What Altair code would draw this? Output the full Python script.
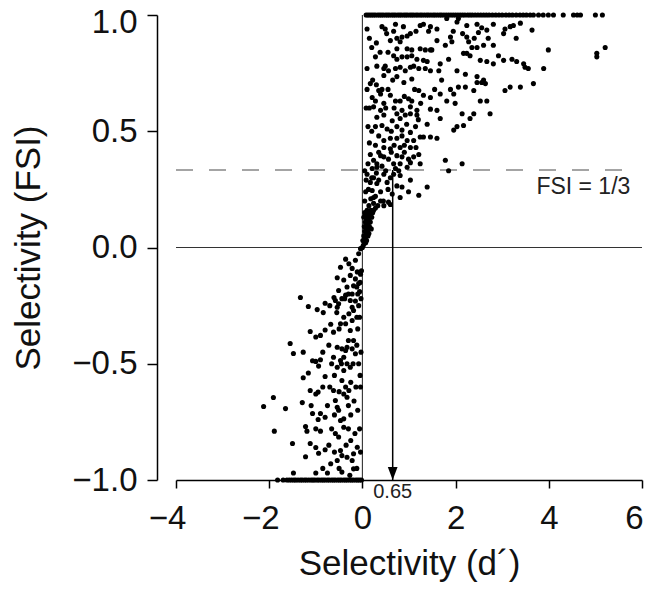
import altair as alt
import pandas as pd

FONT = "Liberation Sans"

# ---- data (d' on x, FSI on y) ----
top_row_x = [0.08, 0.12, 0.16, 0.2, 0.24, 0.28, 0.33, 0.37, 0.41, 0.45, 0.5, 0.54, 0.58, 0.63, 0.67,
             0.71, 0.76, 0.8, 0.84, 0.89, 0.93, 0.97, 1.02, 1.06, 1.1, 1.15, 1.19, 1.24, 1.28, 1.33,
             1.38, 1.42, 1.47, 1.52, 1.56, 1.61, 1.66, 1.7, 1.75, 1.8, 1.85, 1.9, 1.95, 2.0, 2.05,
             2.1, 2.15, 2.2, 2.26, 2.31, 2.36, 2.42, 2.48, 2.54, 2.6, 2.66, 2.72, 2.79, 2.86, 2.93,
             3.0, 3.08, 3.15, 3.22, 3.3, 3.38, 3.45, 3.52, 3.6, 3.67, 3.78, 3.88, 3.99, 4.1, 4.31,
             4.53, 4.61, 4.68, 5.0, 5.15]

bottom_row_x = [-1.82, -1.7, -1.62, -1.57, -1.52, -1.47, -1.43, -1.38, -1.33, -1.29, -1.24, -1.2,
                -1.15, -1.1, -1.06, -1.02, -0.97, -0.93, -0.88, -0.84, -0.8, -0.75, -0.71, -0.66,
                -0.62, -0.58, -0.53, -0.49, -0.45, -0.4, -0.36, -0.32, -0.27, -0.23, -0.19, -0.14,
                -0.1, -0.06, -0.02]

upper_pts = [(0.10, 0.94), (0.42, 0.95), (0.49, 0.94), (0.71, 0.96), (0.67, 0.93), (1.03, 0.92),
             (0.96, 0.91), (1.24, 0.955), (1.31, 0.96), (1.46, 0.95), (1.42, 0.93), (1.81, 0.985),
             (2.06, 0.985), (2.03, 0.97), (2.24, 0.955), (2.46, 0.96), (2.56, 0.945), (2.67, 0.935),
             (2.49, 0.925), (2.81, 0.96), (3.03, 0.92), (3.06, 0.94), (3.17, 0.95), (3.24, 0.955),
             (3.39, 0.965), (3.64, 0.935), (3.99, 0.85), (5.03, 0.835), (5.03, 0.82), (5.21, 0.86),
             (0.6, 0.89), (0.74, 0.9), (0.85, 0.905), (0.81, 0.885), (1.6, 0.89), (1.78, 0.87),
             (1.92, 0.885), (1.89, 0.905), (2.24, 0.905), (2.28, 0.885), (2.35, 0.86), (2.46, 0.86),
             (2.6, 0.87), (2.81, 0.87), (2.24, 0.835), (2.17, 0.835), (1.24, 0.855), (1.35, 0.85),
             (1.46, 0.85), (1.49, 0.85), (0.74, 0.855), (0.96, 0.855), (1.06, 0.85),
             (0.28, 0.82), (0.31, 0.78), (0.49, 0.78), (0.67, 0.825), (0.74, 0.81), (0.85, 0.82),
             (0.96, 0.82), (1.06, 0.825), (1.17, 0.81), (1.31, 0.805), (1.39, 0.8), (1.67, 0.79),
             (1.85, 0.81), (2.31, 0.825), (2.53, 0.805), (2.67, 0.8), (2.81, 0.79), (2.92, 0.825),
             (3.03, 0.805), (3.21, 0.81), (3.31, 0.8), (3.46, 0.79), (3.49, 0.775), (3.56, 0.77),
             (3.89, 0.77), (0.1, 0.77), (0.46, 0.77), (0.56, 0.76), (0.71, 0.77), (0.81, 0.775),
             (0.92, 0.76), (1.03, 0.775), (1.1, 0.78), (1.21, 0.77), (1.35, 0.77), (1.46, 0.76),
             (1.64, 0.76), (2.03, 0.76), (2.21, 0.745), (2.46, 0.735), (2.6, 0.72), (0.46, 0.74),
             (0.74, 0.735), (1.06, 0.725), (0.89, 0.71),
             (0.15, 0.9), (0.2, 0.86), (0.3, 0.88), (0.38, 0.84), (0.55, 0.84), (0.22, 0.72),
             (0.52, 0.92), (0.88, 0.95), (1.15, 0.93), (1.6, 0.94), (1.95, 0.93), (2.15, 0.92),
             (2.4, 0.9), (2.7, 0.9), (3.3, 0.9), (0.65, 0.72), (1.7, 0.72)]

mid_pts = [(0.17, 0.705), (0.35, 0.675), (0.39, 0.66), (0.21, 0.645), (0.28, 0.63), (0.6, 0.655),
           (0.71, 0.63), (0.81, 0.63), (0.99, 0.64), (1.06, 0.63), (1.21, 0.675), (1.31, 0.655),
           (1.46, 0.645), (1.67, 0.66), (1.89, 0.68), (1.96, 0.66), (2.06, 0.69), (2.21, 0.69),
           (2.39, 0.675), (2.46, 0.71), (2.56, 0.71), (2.64, 0.705), (3.06, 0.675), (3.17, 0.69),
           (3.39, 0.69), (3.67, 0.705), (0.24, 0.605), (0.46, 0.62), (0.39, 0.59), (0.74, 0.575),
           (0.85, 0.59), (1.03, 0.605), (1.17, 0.59), (1.46, 0.595), (1.6, 0.59), (1.81, 0.63),
           (1.99, 0.62), (2.53, 0.63), (2.67, 0.63), (2.74, 0.575), (2.39, 0.575), (2.31, 0.555),
           (2.14, 0.575), (0.31, 0.56), (0.46, 0.57), (0.64, 0.545), (0.81, 0.555), (0.92, 0.57),
           (1.03, 0.575), (1.17, 0.57), (1.39, 0.53), (1.67, 0.555), (0.28, 0.52), (0.42, 0.525),
           (0.53, 0.51), (0.74, 0.52), (0.85, 0.505), (1.03, 0.495), (1.14, 0.52), (1.31, 0.475),
           (1.46, 0.475), (1.6, 0.47), (1.96, 0.505), (2.03, 0.52), (2.17, 0.525), (0.46, 0.46),
           (0.6, 0.47), (0.74, 0.47), (0.85, 0.48), (0.96, 0.46), (1.1, 0.46), (1.24, 0.475),
           (0.46, 0.43), (0.6, 0.425), (0.81, 0.43), (1.03, 0.43),
           (0.3, 0.7), (0.15, 0.6), (0.12, 0.52), (0.2, 0.5), (0.35, 0.48), (0.5, 0.6),
           (0.55, 0.68), (0.68, 0.6), (0.9, 0.65), (1.12, 0.68), (1.25, 0.62), (1.55, 0.68),
           (0.95, 0.53), (1.2, 0.55), (0.62, 0.5), (0.15, 0.45), (0.28, 0.44), (0.68, 0.44),
           (0.9, 0.44), (1.15, 0.43), (0.08, 0.6), (0.1, 0.68), (0.42, 0.68)]

lower_pts = [(0.17, 0.4), (0.39, 0.395), (0.24, 0.375), (0.31, 0.36), (0.46, 0.39), (0.56, 0.38),
             (0.74, 0.395), (0.85, 0.39), (0.99, 0.38), (1.1, 0.39), (1.21, 0.4), (0.67, 0.36),
             (0.81, 0.36), (0.96, 0.345), (1.03, 0.365), (1.24, 0.36), (1.78, 0.375), (2.14, 0.36),
             (1.85, 0.33), (0.21, 0.34), (0.31, 0.345), (0.71, 0.34), (0.78, 0.33), (0.1, 0.315),
             (0.24, 0.3), (0.46, 0.315), (0.67, 0.315), (0.81, 0.31), (1.03, 0.29), (0.17, 0.28),
             (0.31, 0.275), (0.53, 0.28), (0.74, 0.265), (0.85, 0.26), (0.21, 0.245), (0.39, 0.24),
             (0.64, 0.23), (0.81, 0.215), (0.99, 0.24), (1.21, 0.225), (1.39, 0.26), (0.24, 0.215),
             (0.39, 0.2), (0.56, 0.195), (0.24, 0.19), (0.46, 0.18), (0.6, 0.185), (0.14, 0.18),
             (0.05, 0.33), (0.12, 0.36), (0.08, 0.29), (0.13, 0.25), (0.3, 0.32), (0.35, 0.29),
             (0.28, 0.22), (0.18, 0.21), (0.07, 0.24), (0.42, 0.35), (0.5, 0.33), (0.55, 0.25),
             (0.6, 0.3), (0.35, 0.41), (0.62, 0.41), (0.9, 0.41), (0.45, 0.2), (0.33, 0.18),
             (0.2, 0.3), (0.05, 0.2)]

origin_pts = [(0.02, 0.01), (0.04, 0.03), (0.03, 0.05), (0.06, 0.04), (0.05, 0.07), (0.08, 0.06),
              (0.07, 0.09), (0.1, 0.08), (0.06, 0.11), (0.09, 0.12), (0.12, 0.1), (0.11, 0.13),
              (0.14, 0.12), (0.08, 0.14), (0.13, 0.15), (0.16, 0.14), (0.05, 0.15), (0.1, 0.16),
              (0.18, 0.16), (0.2, 0.13), (0.22, 0.15), (0.15, 0.09), (0.04, 0.09), (0.12, 0.05),
              (0.01, 0.03), (0.09, 0.03), (0.17, 0.11), (0.24, 0.16), (0.28, 0.17), (0.03, 0.13),
              (0.11, 0.07), (0.07, 0.02), (0.14, 0.06), (0.19, 0.08), (0.0, 0.0)]

neg_pts = [(-0.36, -0.05), (-0.29, -0.07), (-0.15, -0.055), (-0.08, -0.027), (-0.04, -0.005),
           (-0.47, -0.085), (-0.22, -0.09), (-0.11, -0.105), (-0.54, -0.13), (-0.4, -0.14),
           (-0.26, -0.12), (-0.15, -0.135), (-0.04, -0.115), (-0.33, -0.17), (-0.19, -0.165),
           (-0.08, -0.155), (-0.51, -0.185), (-0.36, -0.205), (-0.22, -0.2), (-0.06, -0.19),
           (-0.61, -0.215), (-0.44, -0.22),
           (-1.33, -0.215), (-1.16, -0.254), (-0.97, -0.267), (-0.84, -0.28), (-0.8, -0.24),
           (-1.12, -0.361), (-0.9, -0.378), (-1.0, -0.385), (-0.8, -0.355), (-1.55, -0.413),
           (-1.48, -0.456), (-1.27, -0.45), (-1.07, -0.487), (-1.0, -0.49), (-0.9, -0.483),
           (-0.94, -0.51), (-1.16, -0.54), (-1.27, -0.56), (-0.8, -0.555), (-1.12, -0.615),
           (-1.0, -0.63), (-0.95, -0.622), (-1.29, -0.667), (-2.12, -0.684), (-1.91, -0.645),
           (-1.65, -0.693), (-1.07, -0.714), (-0.9, -0.714), (-0.8, -0.73), (-1.22, -0.77),
           (-1.19, -0.79), (-1.0, -0.78), (-0.9, -0.79), (-1.89, -0.79), (-1.5, -0.843),
           (-1.12, -0.843), (-1.0, -0.86), (-0.94, -0.885), (-1.22, -0.9), (-0.8, -0.87),
           (-1.48, -0.97), (-1.0, -0.97),
           (-0.58, -0.228), (-0.51, -0.242), (-0.54, -0.257), (-0.26, -0.228), (-0.22, -0.257),
           (-0.19, -0.271), (-0.29, -0.285), (-0.4, -0.3), (-0.47, -0.328), (-0.22, -0.314),
           (-0.36, -0.328), (-0.62, -0.364), (-0.26, -0.357), (-0.19, -0.4), (-0.54, -0.429),
           (-0.44, -0.436), (-0.36, -0.443), (-0.33, -0.429), (-0.22, -0.436), (-0.15, -0.457),
           (-0.62, -0.472), (-0.47, -0.486), (-0.4, -0.472), (-0.33, -0.5), (-0.54, -0.515),
           (-0.4, -0.529), (-0.26, -0.515), (-0.04, -0.6), (-0.44, -0.572), (-0.36, -0.6),
           (-0.4, -0.63), (-0.29, -0.615), (-0.33, -0.644), (-0.62, -0.615), (-0.58, -0.658),
           (-0.51, -0.7), (-0.54, -0.687), (-0.47, -0.744), (-0.4, -0.773), (-0.58, -0.8),
           (-0.51, -0.815), (-0.4, -0.737), (-0.11, -0.859), (-0.04, -0.88), (-0.19, -0.887),
           (-0.22, -0.916), (-0.33, -0.902), (-0.44, -0.895), (-0.47, -0.873), (-0.19, -0.952),
           (-0.44, -0.966), (-0.54, -0.916),
           (-0.05, -0.15), (-0.1, -0.2), (-0.02, -0.1), (-0.12, -0.17), (-0.3, -0.2),
           (-0.38, -0.22), (-0.15, -0.23), (-0.08, -0.25), (-0.03, -0.22), (-0.06, -0.3),
           (-0.1, -0.35), (-0.12, -0.42), (-0.08, -0.5), (-0.03, -0.45), (-0.05, -0.55),
           (-0.14, -0.6), (-0.18, -0.66), (-0.1, -0.7), (-0.25, -0.72), (-0.06, -0.78),
           (-0.16, -0.8), (-0.3, -0.78), (-0.12, -0.95), (-0.27, -0.98),
           (-0.7, -0.25), (-0.68, -0.33), (-0.72, -0.42), (-0.66, -0.5), (-0.7, -0.6),
           (-0.75, -0.68), (-0.66, -0.78), (-0.72, -0.85), (-0.68, -0.93), (-0.75, -0.97),
           (-0.5, -0.35), (-0.3, -0.4), (-0.2, -0.5), (-0.45, -0.5), (-0.6, -0.55),
           (-0.25, -0.58), (-0.5, -0.62), (-0.3, -0.68), (-0.6, -0.72), (-0.35, -0.85),
           (-0.6, -0.88), (-0.25, -0.83), (-0.5, -0.95), (-0.85, -0.95), (-0.55, -0.28),
           (-0.12, -0.3), (-0.85, -0.45), (-0.85, -0.6), (-1.1, -0.68), (-0.95, -0.74)]

# annotations
fsi_threshold = 1 / 3
arrow_x = 0.65
x_ticks = [-4, -2, 0, 2, 4, 6]
y_ticks = [-1.0, -0.5, 0.0, 0.5, 1.0]

# ---- build table ----
rows = [(x, 1.0) for x in top_row_x] + [(x, -1.0) for x in bottom_row_x]
for grp in (upper_pts, mid_pts, lower_pts, origin_pts, neg_pts):
    rows += list(grp)
pts = pd.DataFrame(rows, columns=["d", "fsi"])

xs = alt.Scale(domain=[-4, 6], nice=False, zero=False)
ys = alt.Scale(domain=[-1, 1], nice=False, zero=False)

XT = "Selectivity (d\u00b4)"
YT = "Selectivity (FSI)"

x_axis = alt.Axis(values=x_ticks, format="d", grid=False,
                  labelFlush=False, domainColor="black", domainWidth=1.5, tickColor="black",
                  tickWidth=1.5, tickSize=8, labelFontSize=33, labelPadding=14,
                  labelOffset={"condition": [{"test": "datum.value < 0", "value": -9},
                                             {"test": "datum.value == 6", "value": -8}],
                               "value": 0},
                  titleFontSize=35, titlePadding=11, labelFont=FONT, titleFont=FONT,
                  labelColor="#111", titleColor="#111", titleFontWeight="normal")
y_axis = alt.Axis(values=y_ticks, format=".1f", grid=False,
                  offset=19, domainColor="black", domainWidth=1.5, tickColor="black",
                  tickWidth=1.5, tickSize=10, labelFontSize=33, labelPadding=10,
                  labelOffset={"condition": {"test": "datum.value == 1", "value": 7}, "value": 0},
                  titleFontSize=35, titlePadding=25, labelFont=FONT, titleFont=FONT,
                  labelColor="#111", titleColor="#111", titleFontWeight="normal")


def X(field):
    return alt.X(field, type="quantitative", scale=xs, axis=x_axis, title=XT)


def Y(field):
    return alt.Y(field, type="quantitative", scale=ys, axis=y_axis, title=YT)


scatter = alt.Chart(pts).mark_circle(size=26, color="black", opacity=1).encode(
    x=X("d"), y=Y("fsi"))

hline = alt.Chart(pd.DataFrame({"d": [-4], "d2": [6], "fsi": [0]})).mark_rule(
    color="#333", strokeWidth=1.1).encode(x=X("d"), x2="d2:Q", y=Y("fsi"))

vline = alt.Chart(pd.DataFrame({"d": [0], "fsi": [-1], "fsi2": [1]})).mark_rule(
    color="#333", strokeWidth=1.1).encode(x=X("d"), y=Y("fsi"), y2="fsi2:Q")

dashed = alt.Chart(pd.DataFrame({"d": [-4], "d2": [5.72], "fsi": [fsi_threshold]})).mark_rule(
    color="#4a4a4a", strokeWidth=1.2, strokeDash=[17, 16]).encode(x=X("d"), x2="d2:Q", y=Y("fsi"))

arrow = alt.Chart(pd.DataFrame({"d": [arrow_x], "fsi": [fsi_threshold], "fsi2": [-1]})).mark_rule(
    color="black", strokeWidth=1.5).encode(x=X("d"), y=Y("fsi"), y2="fsi2:Q")

head = alt.Chart(pd.DataFrame({"d": [arrow_x], "fsi": [-1]})).mark_point(
    shape="M-0.75,-1L0.75,-1L0,1Z", filled=True, size=169, color="black", opacity=1,
    yOffset=-6.5).encode(x=X("d"), y=Y("fsi"))

fsi_label = alt.Chart(pd.DataFrame({"d": [5.75], "fsi": [0.232], "t": ["FSI = 1/3"]})).mark_text(
    align="right", baseline="alphabetic", fontSize=23, font=FONT, color="#222").encode(
    x=X("d"), y=Y("fsi"), text="t:N")

val_label = alt.Chart(pd.DataFrame({"d": [arrow_x], "fsi": [-1], "t": ["0.65"]})).mark_text(
    align="center", baseline="alphabetic", fontSize=20, font=FONT, color="#222", dy=18).encode(
    x=X("d"), y=Y("fsi"), text="t:N")

chart = alt.layer(hline, vline, dashed, scatter, arrow, head, fsi_label, val_label).properties(
    width=466, height=465,
    autosize=alt.AutoSizeParams(type="none"),
    padding={"left": 168, "top": 7, "right": 2, "bottom": 104},
    background="white",
).configure_view(stroke=None)

chart.save("out.html", embed_options={"renderer": "svg", "actions": False})
